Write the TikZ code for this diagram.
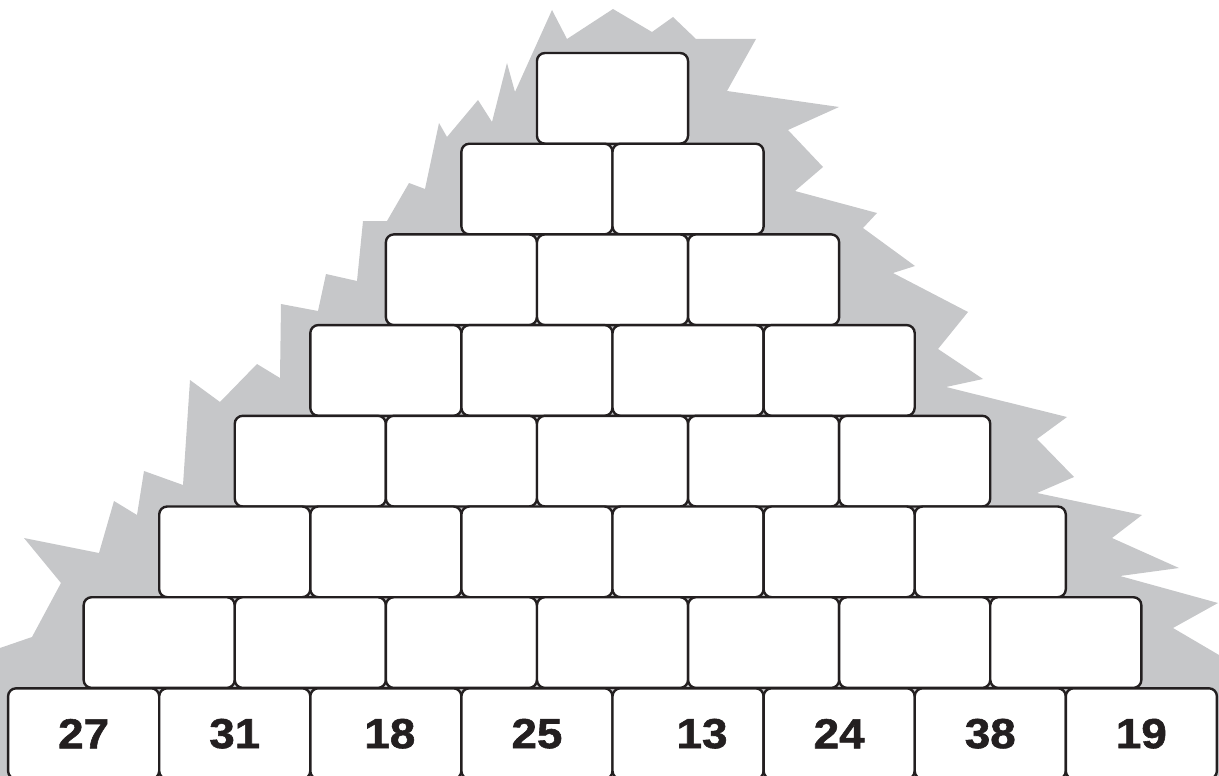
\documentclass[tikz,border=0pt]{standalone}
\usepackage{fontspec}
\setmainfont{Liberation Sans}
\newfontfamily\heavyfont{Liberation Sans}[BoldFeatures={FakeBold=1.3}]
\definecolor{mountain}{RGB}{198,199,201}
\definecolor{ink}{RGB}{35,31,32}
\tikzset{
  brick/.style={draw=ink, fill=white, line width=2.4pt, rounded corners=8pt,
    rectangle, minimum width=151.1pt, minimum height=90.7pt, inner sep=0pt,
    font=\heavyfont\fontsize{42}{42}\selectfont\bfseries, text=ink},
}
\newcommand{\numtxt}[1]{\scalebox{1.09}[1]{#1}}
\begin{document}
\begin{tikzpicture}[x=1pt,y=-1pt]
\useasboundingbox (0,0) rectangle (1219,776);
% mountain
\fill[mountain] (0,776) -- (0,648) -- (32,637) -- (61,583) -- (24,538) -- (99,553)
 -- (114,501) -- (137,515) -- (144,471) -- (183,485) -- (190,380) -- (220,402)
 -- (257,364) -- (280,378) -- (281,304) -- (318,311) -- (326,274) -- (357,281)
 -- (363,221) -- (387,221) -- (409,183) -- (425,189) -- (439,123) -- (447,137)
 -- (478,100) -- (492,122) -- (507,63) -- (515,92) -- (552,10) -- (567,39)
 -- (613,9) -- (652,32) -- (673,17) -- (696,39) -- (756,39) -- (727,91)
 -- (839,107) -- (788,130) -- (823,167) -- (795,191) -- (877,213) -- (863,228)
 -- (915,266) -- (893,273) -- (968,312) -- (938,349) -- (983,379) -- (946,387)
 -- (1067,417) -- (1037,439) -- (1074,477) -- (1037,493) -- (1142,515) -- (1112,538)
 -- (1179,568) -- (1120,576) -- (1218,603) -- (1173,628) -- (1219,655) -- (1219,776) -- cycle;
% empty rows
\foreach \r in {1,...,7}{
  \foreach \i in {1,...,\r}{
    \node[brick] (b\r-\i) at ({612.5-\r*151.1/2+(\i-0.5)*151.1},{53+(\r-0.5)*90.7}) {};
  }
}
% bottom row
\def\yb{733.65}
\node[brick] (b8-1) at ({612.5-4*151.1+0.5*151.1},\yb) {\numtxt{27}};
\node[brick] (b8-2) at ({612.5-4*151.1+1.5*151.1},\yb) {\numtxt{31}};
\node[brick] (b8-3) at ({612.5-4*151.1+2.5*151.1},\yb) {\hspace*{8pt}\numtxt{18}};
\node[brick] (b8-4) at ({612.5-4*151.1+3.5*151.1},\yb) {\numtxt{25}};
\node[brick] (b8-5) at ({612.5-4*151.1+4.5*151.1},\yb) {\hspace*{28pt}\numtxt{13}};
\node[brick] (b8-6) at ({612.5-4*151.1+5.5*151.1},\yb) {\numtxt{24}};
\node[brick] (b8-7) at ({612.5-4*151.1+6.5*151.1},\yb) {\numtxt{38}};
\node[brick] (b8-8) at ({612.5-4*151.1+7.5*151.1},\yb) {\numtxt{19}};
\end{tikzpicture}
\end{document}
